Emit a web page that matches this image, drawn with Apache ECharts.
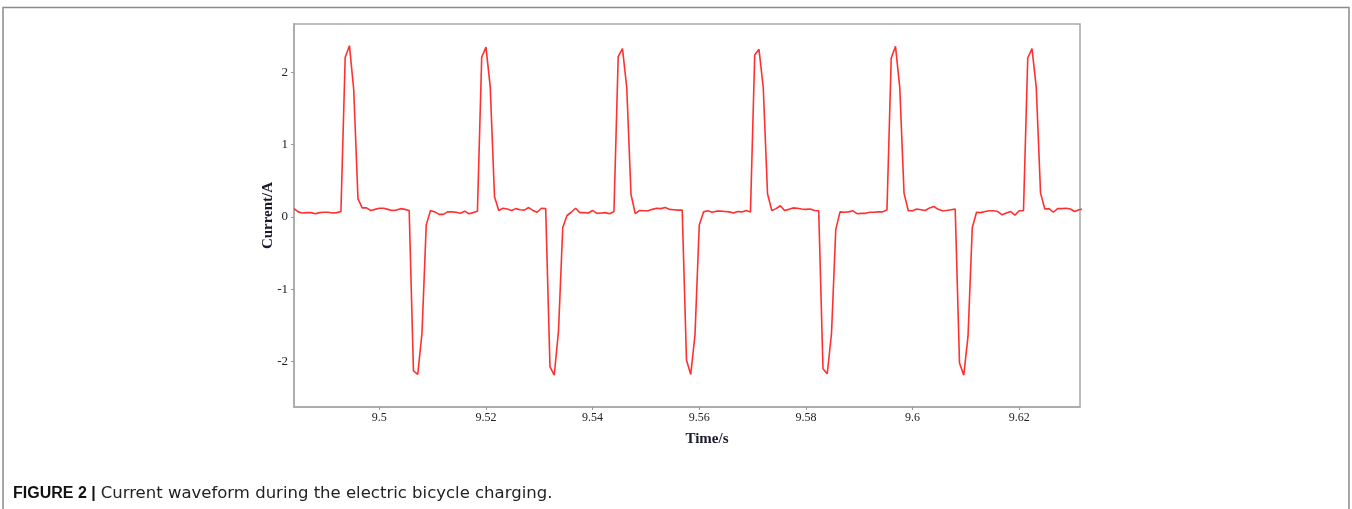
<!DOCTYPE html>
<html>
<head>
<meta charset="utf-8">
<script src="https://cdn.jsdelivr.net/npm/echarts@6/dist/echarts.min.js"></script>
<style>
  html, body { margin: 0; padding: 0; background: #fff; }
  #main { width: 1352px; height: 509px; }
</style>
</head>
<body>
<div id="main"></div>
<script>
// sampled current, one value every 0.8 ms starting at t = 9.484 s
const T0 = 9.484
const DT = 0.0008
const current = [
    0.115, 0.07, 0.055, 0.06, 0.06, 0.045, 0.06, 0.065, 0.065, 0.055, 0.06, 0.075,
    2.21, 2.37, 1.76, 0.25, 0.125,
    0.125, 0.09, 0.105, 0.12, 0.12, 0.105, 0.09, 0.095, 0.115, 0.105, 0.09,
    -2.13, -2.18, -1.61, -0.11,
    0.09, 0.07, 0.035, 0.035, 0.07, 0.07, 0.065, 0.05, 0.08, 0.045, 0.06, 0.08,
    2.21, 2.35, 1.8, 0.28,
    0.09, 0.12, 0.11, 0.09, 0.115, 0.1, 0.095, 0.13, 0.09, 0.065, 0.12, 0.115,
    -2.07, -2.19, -1.58, -0.145,
    0.02, 0.065, 0.12, 0.06, 0.06, 0.055, 0.09, 0.05, 0.055, 0.06, 0.045, 0.075,
    2.22, 2.33, 1.79, 0.31,
    0.045, 0.09, 0.085, 0.085, 0.105, 0.12, 0.115, 0.13, 0.105, 0.1, 0.095, 0.095,
    -1.98, -2.18, -1.63, -0.11,
    0.07, 0.085, 0.065, 0.08, 0.08, 0.075, 0.07, 0.055, 0.075, 0.07, 0.09, 0.07,
    2.24, 2.32, 1.79, 0.32,
    0.09, 0.115, 0.155, 0.09, 0.105, 0.125, 0.12, 0.11, 0.105, 0.11, 0.09, 0.085,
    -2.1, -2.17, -1.61, -0.175,
    0.07, 0.065, 0.07, 0.085, 0.045, 0.05, 0.05, 0.065, 0.065, 0.07, 0.07, 0.1,
    2.2, 2.36, 1.79, 0.33,
    0.085, 0.085, 0.11, 0.1, 0.09, 0.125, 0.145, 0.105, 0.085, 0.09, 0.1, 0.11,
    -2.02, -2.19, -1.65, -0.145,
    0.065, 0.06, 0.075, 0.085, 0.085, 0.075, 0.03, 0.055, 0.075, 0.025, 0.085, 0.085,
    2.2, 2.33, 1.79, 0.33,
    0.11, 0.115, 0.065, 0.115, 0.115, 0.12, 0.11, 0.075, 0.1, 0.11
]
const xRange = [9.484, 9.6314]
const yRange = [-2.63, 2.67]
const captionBold = 'FIGURE 2 |'
const captionText = 'Current waveform during the electric bicycle charging.'

const points = current.map((v, i) => [+(T0 + i * DT).toFixed(4), v])

let chartDom = document.getElementById('main')
let myChart = echarts.init(chartDom)
let option = {
    animation: false,
    backgroundColor: '#fff',
    title: {
        left: 13,
        top: 485,
        padding: 0,
        text: '{b|' + captionBold + '} {r|' + captionText + '}',
        textStyle: {
            fontWeight: 'normal',
            rich: {
                b: { fontFamily: 'Liberation Sans', fontWeight: 'bold', fontSize: 16, color: '#111' },
                r: { fontFamily: 'DejaVu Sans', fontWeight: 'normal', fontSize: 16.5, color: '#222' }
            }
        }
    },
    graphic: [
        {
            type: 'polyline',
            shape: { points: [[3, 509], [3, 7.5], [1349, 7.5], [1349, 509]] },
            style: { stroke: '#8a8a8a', lineWidth: 1.5, fill: null },
            silent: true
        }
    ],
    grid: {
        left: 294,
        top: 24,
        right: 272,
        bottom: 102,
        show: true,
        borderColor: '#a8a8a8',
        borderWidth: 1.5
    },
    xAxis: {
        type: 'value',
        min: xRange[0],
        max: xRange[1],
        splitNumber: 7,
        name: 'Time/s',
        nameLocation: 'middle',
        nameGap: 25,
        nameTextStyle: {
            fontFamily: 'Liberation Serif',
            fontSize: 15,
            fontWeight: 'bold',
            color: '#1a1a2e',
            padding: [0, 0, 0, 40]
        },
        axisLine: { show: true, onZero: false, lineStyle: { color: '#a8a8a8', width: 1.5 } },
        axisTick: { show: true, length: 3, lineStyle: { color: '#999' } },
        splitLine: { show: false },
        axisLabel: {
            showMinLabel: false,
            showMaxLabel: false,
            margin: 5,
            fontFamily: 'Liberation Serif',
            fontSize: 12,
            color: '#222'
        }
    },
    yAxis: {
        type: 'value',
        min: yRange[0],
        max: yRange[1],
        splitNumber: 5,
        name: 'Current/A',
        nameLocation: 'middle',
        nameGap: 18,
        nameMoveOverlap: false,
        nameTextStyle: {
            fontFamily: 'Liberation Serif',
            fontSize: 15,
            fontWeight: 'bold',
            color: '#1a1a2e'
        },
        axisLine: { show: true, lineStyle: { color: '#a8a8a8', width: 1.5 } },
        axisTick: { show: true, length: 3, lineStyle: { color: '#999' } },
        splitLine: { show: false },
        axisLabel: {
            showMinLabel: false,
            showMaxLabel: false,
            margin: 6,
            fontFamily: 'Liberation Serif',
            fontSize: 13,
            color: '#222'
        }
    },
    series: [
        {
            type: 'line',
            data: points,
            showSymbol: false,
            clip: true,
            lineStyle: { color: '#ff3030', width: 1.6 }
        }
    ]
}

option && myChart.setOption(option)
</script>
</body>
</html>
